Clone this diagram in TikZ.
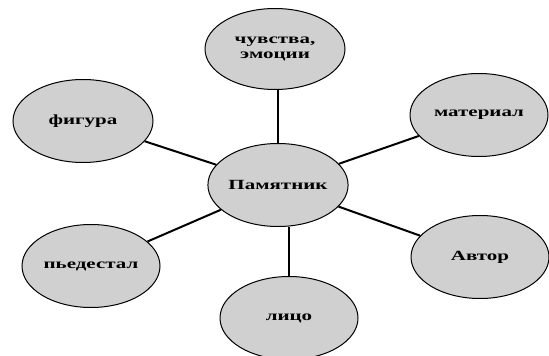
\documentclass[tikz,border=0pt]{standalone}
\usepackage{fontspec}
\newfontfamily\lab{Liberation Serif}[FakeStretch=1.5]
\usetikzlibrary{shapes.geometric}
\definecolor{bubble}{HTML}{D0D0D0}
\tikzset{
  bub/.style={ellipse, draw=black, line width=1pt, fill=bubble,
    minimum width=138pt, minimum height=83pt, inner sep=0pt,
    font=\lab\bfseries\fontsize{14}{15}\selectfont, align=center},
  link/.style={line width=2pt, black}
}
\begin{document}
\begin{tikzpicture}[x=1pt,y=-1pt]
\clip (0,0) rectangle (549,356);
\fill[white] (0,0) rectangle (549,356);
\node[bub] (c) at (278,185) {Памятник};
\node[bub, minimum width=140pt, minimum height=81pt] (t) at (275,49) {чувства,\\эмоции};
\node[bub] (m) at (479,115) {материал};
\node[bub] (a) at (480,257) {Автор};
\node[bub, minimum width=140pt] (f) at (83,121) {фигура};
\node[bub] (p) at (91,266) {пьедестал};
\node[bub] (l) at (289,318) {лицо};
\draw[link] (c.north) -- (c.north |- t.south);
\draw[link] (c) -- (f);
\draw[link] (c) -- (m);
\draw[link] (c) -- (a);
\draw[link] (c) -- (p);
\draw[link] (l.north) -- (l.north |- c.south);
\end{tikzpicture}
\end{document}
